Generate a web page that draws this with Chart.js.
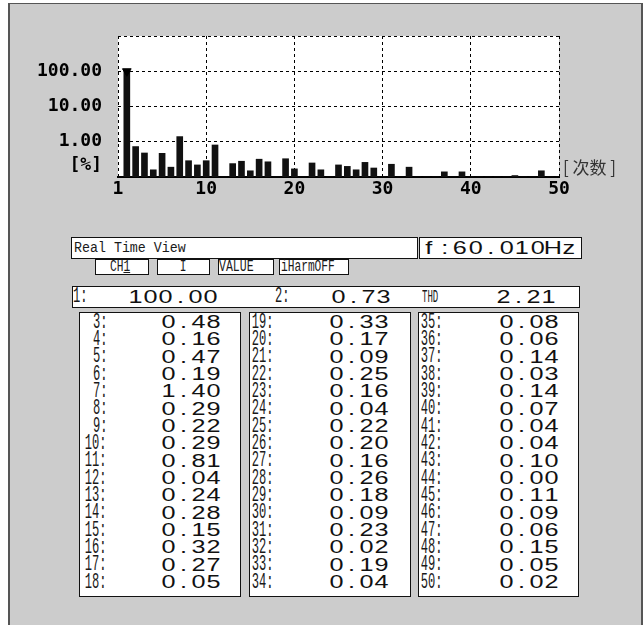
<!DOCTYPE html>
<html><head><meta charset="utf-8">
<script src="https://cdn.jsdelivr.net/npm/chart.js@4"></script>
<style>
html,body{margin:0;padding:0;background:#fff;}
#wrap{position:relative;width:644px;height:625px;overflow:hidden;background:#fff;}
#panel{position:absolute;left:8px;top:3px;width:631px;height:640px;background:#cccccc;border-left:2px solid #555;border-top:1px solid #555;border-right:2px solid #555;}
#c{position:absolute;left:0;top:0;}
.box{position:absolute;background:#fff;border:1px solid #111;box-sizing:border-box;}
.t{position:absolute;white-space:pre;line-height:1;}
.thin{font-family:'Liberation Mono',monospace;color:#1a1a1a;}
.big{font-family:'Liberation Sans',sans-serif;font-size:18px;color:#111;}
.big span{display:inline-block;text-align:center;line-height:18px;height:18px;vertical-align:top;transform:scaleX(1.4);}
</style></head>
<body>
<div id="wrap"><div id="panel"></div><canvas id="c" width="644" height="210"></canvas></div>
<script>
// ---------- data ----------
const harmonicOrders = [1,2,3,4,5,6,7,8,9,10,11,12,13,14,15,16,17,18,19,20,21,22,23,24,25,26,27,28,29,30,31,32,33,34,35,36,37,38,39,40,41,42,43,44,45,46,47,48,49,50];
const harmonicValues = [100.00,0.73,0.48,0.16,0.47,0.19,1.40,0.29,0.22,0.29,
                        0.81,0.04,0.24,0.28,0.15,0.32,0.27,0.05,0.33,0.17,
                        0.09,0.25,0.16,0.04,0.22,0.20,0.16,0.26,0.18,0.09,
                        0.23,0.02,0.19,0.04,0.08,0.06,0.14,0.03,0.14,0.07,
                        0.04,0.04,0.10,0.00,0.11,0.09,0.06,0.15,0.05,0.02];
const thdValue = 2.21;
const frequencyText = '60.010';
const cursorOrder = 1;
const xTickValues = [0,10,20,30,40,50];
const xTickLabels = ['1','10','20','30','40','50'];
const yTickValues = [0.1,1,10,100,1000];
const yTickLabels = ['','1.00','10.00','100.00',''];
const yUnitLabel = '[%]';
const xUnitLabel = '[ 次数 ]';
const headerTitle = 'Real Time View';
const modeButtons = ['CH<u>1</u>','I','VALUE','iHarmOFF'];

// ---------- chart ----------
const bgPlugin = {id:'bg', beforeDraw(chart){const {ctx,chartArea:a}=chart; ctx.save(); ctx.fillStyle='#fff'; ctx.fillRect(a.left,a.top,a.right-a.left,a.bottom-a.top+1); ctx.restore();}};
const labelPlugin = {id:'lbl', afterDraw(chart){const {ctx,chartArea:a}=chart; ctx.save();
  ctx.font='bold 18px "DejaVu Sans Mono"'; ctx.fillStyle='#000'; ctx.textAlign='right'; ctx.textBaseline='middle';
  ctx.fillText(yUnitLabel, a.left-16, a.bottom-12);
  ctx.font='17px "Noto Sans CJK SC"'; ctx.fillStyle='#333'; ctx.textAlign='left';
  ctx.fillText(xUnitLabel, a.right+4, a.bottom-9);
  ctx.restore();}};
const tickFont = {family:'DejaVu Sans Mono', size:18, weight:'bold'};
new Chart(document.getElementById('c'), {
  type:'bar',
  data:{datasets:[
    {type:'line', data:[{x:cursorOrder, y:harmonicValues[cursorOrder-1]}], showLine:false, pointStyle:'triangle', rotation:180, radius:5, backgroundColor:'#000', borderColor:'#000', borderWidth:1, clip:false},
    {data:harmonicOrders.map((o,i)=>({x:o,y:harmonicValues[i]})), backgroundColor:'#111', barThickness:6, clip:0}
  ]},
  options:{
    responsive:false, animation:false, devicePixelRatio:1,
    layout:{padding:{top:36,right:85,bottom:0,left:0}},
    plugins:{legend:{display:false}, tooltip:{enabled:false}},
    scales:{
      x:{type:'linear', min:0, max:50, offset:false,
        afterBuildTicks:s=>{s.ticks=xTickValues.map(v=>({value:v}));},
        afterFit:s=>{s.height=33;},
        grid:{color:'#000', lineWidth:1, drawTicks:false, offset:false},
        border:{display:true, color:'#000', width:2, dash:[3,3]},
        ticks:{padding:2, autoSkip:false, maxRotation:0, font:tickFont, color:'#000',
          callback:v=>{const i=xTickValues.indexOf(v); return i>=0?xTickLabels[i]:'';}}},
      y:{type:'logarithmic', min:0.1, max:1000,
        afterBuildTicks:s=>{s.ticks=yTickValues.map(v=>({value:v}));},
        afterFit:s=>{s.width=118;},
        grid:{color:'#000', lineWidth:1, drawTicks:false},
        border:{display:false, dash:[3,3]},
        ticks:{padding:16, autoSkip:false, font:tickFont, color:'#000',
          callback:v=>{const i=yTickValues.indexOf(v); return i>=0?yTickLabels[i]:'';}}}
    }
  },
  plugins:[bgPlugin,labelPlugin]
});

// ---------- table ----------
const wrap = document.getElementById('wrap');
function box(l,t,w,h){const d=document.createElement('div'); d.className='box'; Object.assign(d.style,{left:l+'px',top:t+'px',width:w+'px',height:h+'px'}); wrap.appendChild(d);}
function thin(text,x,yc,size,sx,align){
  const d=document.createElement('div'); d.className='t thin';
  d.style.fontSize=size+'px'; d.style.top=(yc-0.47*size)+'px';
  if(align==='right'){d.style.right=(644-x)+'px'; d.style.transformOrigin='100% 50%'; d.style.transform='scaleX('+sx+')';}
  else if(align==='center'){d.style.left=x+'px'; d.style.transform='translateX(-50%) scaleX('+sx+')';}
  else {d.style.left=x+'px'; d.style.transformOrigin='0 50%'; d.style.transform='scaleX('+sx+')';}
  d.innerHTML=text; wrap.appendChild(d);}
function big(text,xRight,yc,slot){
  slot=slot||15;
  const d=document.createElement('div'); d.className='t big';
  d.style.left=(xRight-text.length*slot)+'px'; d.style.top=(yc-9)+'px';
  for(const ch of text){const s=document.createElement('span'); s.style.width=slot+'px'; s.textContent=ch; d.appendChild(s);}
  wrap.appendChild(d);}

// header
box(71,237,347,22); thin(headerTitle,74,247.5,14,0.95,'left');
box(419,237,163,22); big('f:'+frequencyText+'Hz',421+10*15.5,247.5,15.5);
// mode buttons
box(95,259,54,16); box(157,259,53,16); box(218,259,56,16); box(279,259,70,16);
thin(modeButtons[0],110,267,16,0.7,'left');
thin(modeButtons[1],183,267,16,0.7,'center');
thin(modeButtons[2],219,267,16,0.72,'left');
thin(modeButtons[3],281,267,16,0.7,'left');
// fundamental row
box(72,286,508,22);
thin('1:',73,296.5,22,0.55,'left'); big(harmonicValues[0].toFixed(2),218,296.5);
thin('2:',275,296.5,22,0.55,'left'); big(harmonicValues[1].toFixed(2),391,296.5);
thin('THD',422,296.5,18,0.5,'left'); big(thdValue.toFixed(2),556,296.5);
// columns
const cols=[{l:79,w:162,lab:107,val:221,start:2},{l:249,w:162,lab:274,val:389,start:18},{l:418,w:161,lab:443,val:559,start:34}];
cols.forEach(c=>{
  box(c.l,312,c.w,285);
  for(let r=0;r<16;r++){
    const idx=c.start+r; const yc=322+17.33*r;
    thin(harmonicOrders[idx]+':',c.lab,yc,22,0.55,'right');
    big(harmonicValues[idx].toFixed(2),c.val,yc);
  }
});
</script>
</body></html>
